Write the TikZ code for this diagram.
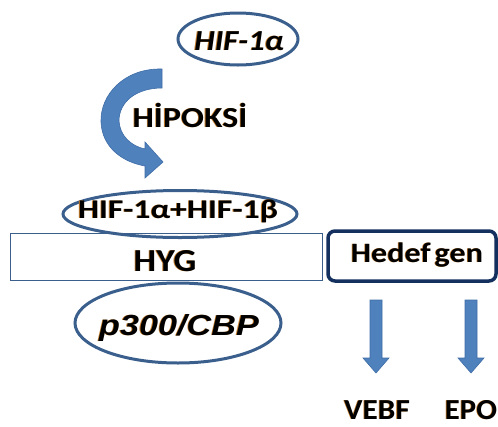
\documentclass[tikz,border=0pt]{standalone}
\usepackage{fontspec}
\usepackage{graphicx}
\setmainfont{Carlito}
\newfontfamily\arialfont{Liberation Sans}
\usetikzlibrary{shapes.geometric}

\definecolor{rimblue}{HTML}{3B5F8C}
\definecolor{navy}{HTML}{14305E}
\definecolor{fillblue}{HTML}{4F81BD}
\definecolor{edgeblue}{HTML}{3F6DA6}
\definecolor{glow}{HTML}{C8802E}

\tikzset{
  oval/.style={ellipse, draw=rimblue, line width=3pt, inner sep=0pt},
  lbl/.style={anchor=base, inner sep=0pt, text=black},
  blockarrow/.style={fill=fillblue, draw=edgeblue, line width=0.6pt},
}
% horizontally widened text with a faint warm fringe
\newcommand{\wide}[2]{\scalebox{#1}[1]{\rlap{\kern-0.7pt\raisebox{-0.7pt}{\textcolor{glow}{#2}}}#2}}

\begin{document}
\begin{tikzpicture}[x=1pt, y=-1pt]
\useasboundingbox (0,0) rectangle (498,426);

% promoter box and target gene box
\node[draw=rimblue, line width=1pt, fill=white, minimum width=312pt, minimum height=47pt, inner sep=0pt]
  (hyg) at (166,256.5) {};
\node[draw=navy, line width=3.5pt, rounded corners=7pt, minimum width=168pt, minimum height=50pt, inner sep=0pt]
  (gene) at (412,256) {};

% ovals
\node[oval, minimum width=120pt, minimum height=52pt] (hifa) at (238,39) {};
\node[oval, minimum width=234pt, minimum height=47pt] (dimer) at (180,214) {};
\node[oval, minimum width=206pt, minimum height=80pt] (p300) at (178,323) {};

% texts
\node[lbl, font=\fontsize{29}{29}\selectfont\bfseries\itshape] (hifat) at (239,50) {\wide{1.12}{HIF-1α}};
\node[lbl, font=\fontsize{29}{29}\selectfont\bfseries] (hypo) at (190,127) {\wide{1.17}{HİPOKSİ}};
\node[lbl, font=\fontsize{27}{27}\selectfont\bfseries] (dimert) at (178,218) {\wide{1.24}{HIF-1α+HIF-1β}};
\node[lbl, font=\fontsize{32}{32}\selectfont\bfseries] (hygt) at (165,271) {\wide{1.12}{HYG}};
\node[lbl, font=\arialfont\fontsize{29}{29}\selectfont\bfseries\itshape] (p300t) at (179,335) {\wide{1.18}{p300/CBP}};
\node[lbl, font=\fontsize{28}{28}\selectfont\bfseries] (genet) at (417,262) {\wide{1.15}{Hedef\kern0.12em gen}};
\node[lbl, font=\fontsize{29}{29}\selectfont\bfseries] (vebf) at (377,419) {\wide{1.08}{VEBF}};
\node[lbl, font=\fontsize{29}{29}\selectfont\bfseries] (epo) at (471,419) {\wide{1.06}{EPO}};

% curved hypoxia arrow
\draw[blockarrow]
  (162,69) .. controls (124,68) and (100,95) .. (101,122)
  .. controls (102,147) and (122,162) .. (145,166)
  -- (145,178) -- (163,162) -- (145,142) -- (145,149)
  .. controls (131,146) and (120,136) .. (119,121)
  .. controls (119,102) and (136,88) .. (162,88) -- cycle;

% downward arrows from the target gene
\coordinate (a1) at (376,300);
\coordinate (a2) at (471,300);
\foreach \c in {a1,a2}{
  \draw[blockarrow] ([xshift=-6pt]\c) -- ([xshift=6pt]\c) -- ([xshift=6pt,yshift=-58pt]\c)
    -- ([xshift=13pt,yshift=-58pt]\c) -- ([yshift=-73pt]\c) -- ([xshift=-13pt,yshift=-58pt]\c)
    -- ([xshift=-6pt,yshift=-58pt]\c) -- cycle;
}
\end{tikzpicture}
\end{document}
